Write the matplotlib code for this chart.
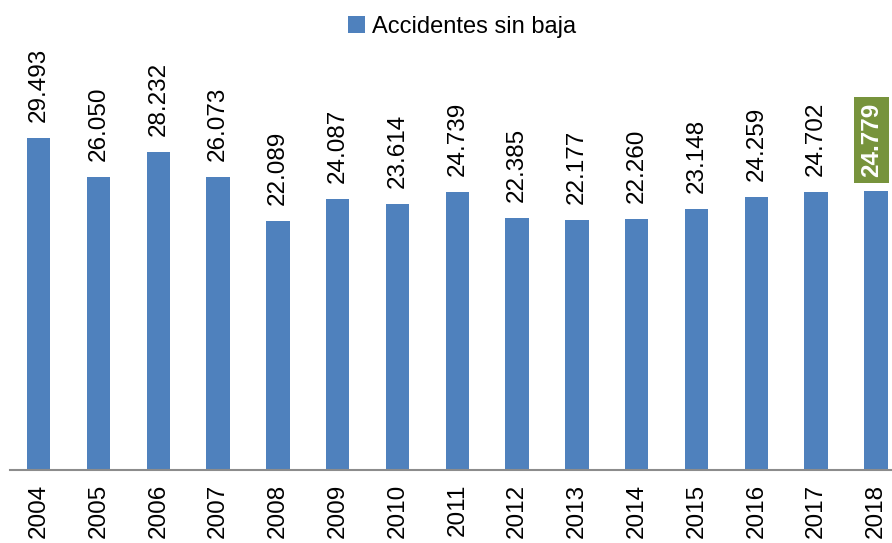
import matplotlib.pyplot as plt

years = ['2004', '2005', '2006', '2007', '2008', '2009', '2010', '2011',
         '2012', '2013', '2014', '2015', '2016', '2017', '2018']
accidentes = [29493, 26050, 28232, 26073, 22089, 24087, 23614, 24739,
              22385, 22177, 22260, 23148, 24259, 24702, 24779]

barColor = '#4F81BD'
highlightColor = '#77933C'

plt.rcParams['font.family'] = ['Liberation Sans', 'DejaVu Sans']

fig = plt.figure(figsize=(8.92, 5.43), dpi=100)
ax = fig.add_axes([10 / 892, 73 / 543, 882 / 892, 430 / 543])

x = list(range(len(years)))
bars = ax.bar(x, accidentes, width=0.39, color=barColor, label='Accidentes sin baja')

for i, v in enumerate(accidentes):
    text = f"{v:,}".replace(",", ".")
    if i == len(accidentes) - 1:
        ax.annotate(text, (i, v), xytext=(-3, 10), textcoords='offset points',
                    rotation=90, ha='center', va='bottom', fontsize=17.5,
                    color='white', fontweight='bold',
                    bbox=dict(boxstyle='square,pad=0.25', fc=highlightColor, ec='none'))
    else:
        ax.annotate(text, (i, v), xytext=(0, 11.5), textcoords='offset points',
                    rotation=90, ha='center', va='bottom', fontsize=17.5,
                    color='black')

ax.set_xlim(-0.48, 14.27)
ax.set_ylim(0, 38200)
ax.set_xticks(x)
ax.set_xticklabels(years, rotation=90, fontsize=17.5)
ax.tick_params(axis='x', length=0, pad=10)
ax.set_yticks([])
for side in ['top', 'left', 'right']:
    ax.spines[side].set_visible(False)
ax.spines['bottom'].set_color('#8C8C8C')
ax.spines['bottom'].set_linewidth(1.5)

fig.legend(handles=[bars], loc='upper center', bbox_to_anchor=(0.518, 1.01),
           frameon=False, fontsize=17, handlelength=0.7, handleheight=0.7,
           handletextpad=0.3)

fig.savefig('out.png', dpi=100)
